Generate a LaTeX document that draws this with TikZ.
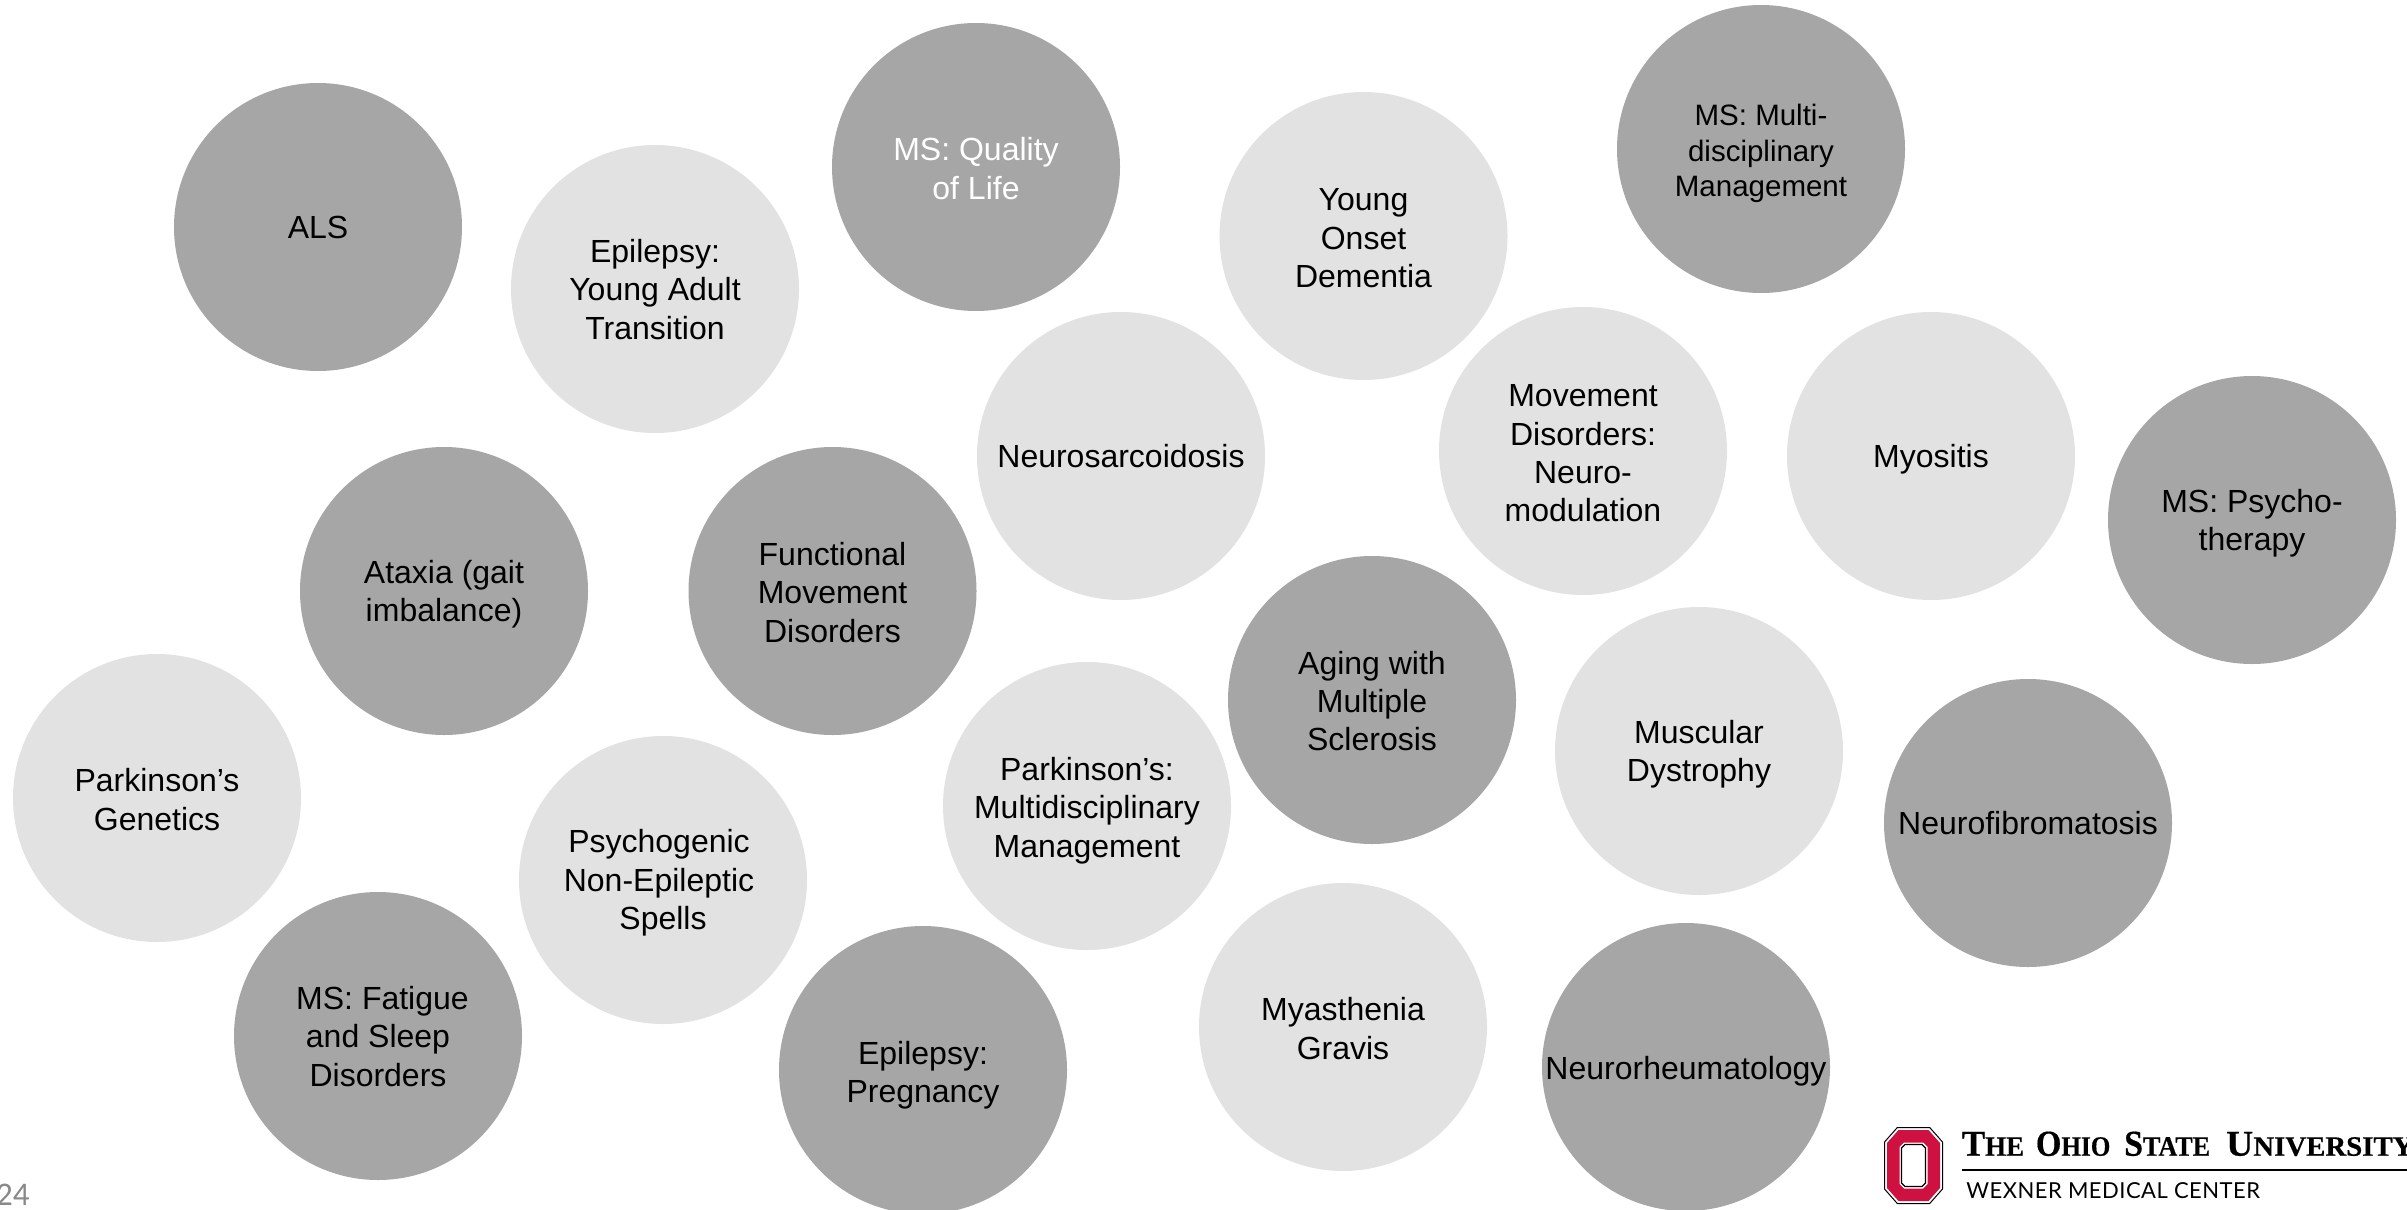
\documentclass[tikz,border=0pt]{standalone}
\usepackage{fontspec}
\setmainfont{Liberation Sans}
\newfontfamily\logoserif[BoldFeatures={FakeBold=0.5}]{Liberation Serif}
\newfontfamily\logosans[LetterSpace=2.2]{Lato}
\newfontfamily\pagefont{Carlito}
\definecolor{bubdark}{HTML}{A6A6A6}
\definecolor{bublight}{HTML}{E2E2E2}
\definecolor{osured}{HTML}{CE1141}
\definecolor{pagegray}{HTML}{898989}
\tikzset{
  bubble/.style={circle,minimum size=288pt,inner sep=0pt},
  darkbub/.style={bubble,fill=bubdark},
  lightbub/.style={bubble,fill=bublight},
  bubtext/.style={inner sep=0pt,align=center,text=black,font=\fontsize{32}{38.4}\selectfont},
  smalltext/.style={font=\fontsize{29.5}{35.4}\selectfont},
  logoword/.style={anchor=base west,inner sep=0pt,font=\logoserif\bfseries},
}
\newcommand{\SC}[2]{{\fontsize{36.4}{36}\selectfont #1}{\fontsize{28}{36}\selectfont #2}}
% \bub{name}{circle style}{x}{y}{text drop}{text style}{text}
\newcommand{\bub}[7]{%
  \node[#2] (#1) at (#3,#4) {};
  \node[bubtext,#6] (#1t) at ([yshift=-#5pt]#1.center) {#7};
}
\begin{document}
\begin{tikzpicture}[x=1pt,y=-1pt]
\useasboundingbox (0,0) rectangle (2407,1210);
\clip (0,0) rectangle (2407,1210);
\fill[white] (0,0) rectangle (2407,1210);
\bub{epya}{lightbub}{655}{289}{0.5}{}{Epilepsy:\\Young Adult\\Transition}
\bub{yod}{lightbub}{1363.5}{236}{2.5}{}{Young\\Onset\\Dementia}
\bub{nsarc}{lightbub}{1121}{456}{0}{}{Neurosarcoidosis}
\bub{mdn}{lightbub}{1583}{451}{2.5}{}{Movement\\Disorders:\\Neuro-\\modulation}
\bub{myos}{lightbub}{1931}{456}{3}{}{Myositis}
\bub{pgen}{lightbub}{157}{798}{1.5}{}{Parkinson’s\\Genetics}
\bub{pnes}{lightbub}{663}{880}{3}{}{\mbox{Psychogenic\hspace{8pt}}\\\mbox{Non-Epileptic\hspace{8pt}}\\Spells}
\bub{pmm}{lightbub}{1087}{806}{4.5}{}{Parkinson’s:\\Multidisciplinary\\Management}
\bub{mdys}{lightbub}{1699}{751}{3}{}{Muscular\\Dystrophy}
\bub{mg}{lightbub}{1343}{1027}{1.5}{}{Myasthenia\\Gravis}
\bub{als}{darkbub}{318}{227}{0}{}{ALS}
\bub{msqol}{darkbub}{976}{167}{1.5}{text=white}{MS: Quality\\of Life}
\bub{msmd}{darkbub}{1761}{149}{4.5}{smalltext}{MS: Multi-\\disciplinary\\Management}
\bub{mspsy}{darkbub}{2252}{520}{3}{}{MS: Psycho-\\therapy}
\bub{atax}{darkbub}{444}{591}{3}{}{Ataxia (gait\\imbalance)}
\bub{fmd}{darkbub}{832.5}{591}{1.5}{}{Functional\\Movement\\Disorders}
\bub{aging}{darkbub}{1372}{700}{1}{}{Aging with\\Multiple\\Sclerosis}
\bub{nfib}{darkbub}{2028}{823}{0}{}{Neurofibromatosis}
\bub{msfat}{darkbub}{378}{1036}{0.5}{}{\hspace*{9pt}MS: Fatigue\\and Sleep\\Disorders}
\bub{eppr}{darkbub}{923}{1070}{5}{}{Epilepsy:\\Pregnancy}
\bub{nrh}{darkbub}{1686}{1067}{4.5}{}{Neurorheumatology}
% page number
\node[anchor=base west,inner sep=0pt,text=pagegray,font=\pagefont\fontsize{33}{33}\selectfont] (pageno) at (-4,1205) {24};
% logo
\draw[black,line width=1pt,fill=white] (1897.3,1127.5) -- (1929.7,1127.5) -- (1942.5,1142) -- (1942.5,1189) -- (1929.7,1203.5) -- (1897.3,1203.5) -- (1884.5,1189) -- (1884.5,1142) -- cycle;
\fill[osured] (1898.5,1130) -- (1928.5,1130) -- (1940,1143) -- (1940,1188) -- (1928.5,1201) -- (1898.5,1201) -- (1887,1188) -- (1887,1143) -- cycle;
\fill[white] (1904,1142.5) -- (1923,1142.5) -- (1927.5,1147) -- (1927.5,1184) -- (1923,1188.5) -- (1904,1188.5) -- (1899.5,1184) -- (1899.5,1147) -- cycle;
\draw[black,line width=1.2pt,fill=white] (1905,1144.5) -- (1922,1144.5) -- (1925.5,1148) -- (1925.5,1183) -- (1922,1186.5) -- (1905,1186.5) -- (1901.5,1183) -- (1901.5,1148) -- cycle;
\node[logoword] (wthe) at (1961.7,1155.7) {\scalebox{.96}[1]{\SC{T}{HE}}};
\node[logoword] (wohio) at (2035.7,1155.7) {\scalebox{.90}[1]{\SC{O}{HIO}}};
\node[logoword] (wstate) at (2124,1155.7) {\scalebox{.93}[1]{\SC{S}{TATE}}};
\node[logoword] (wuniv) at (2226,1155.7) {\scalebox{1.03}[1]{\SC{U}{NIVERSITY}}};
\coordinate (ruleL) at (1962.3,1170);
\coordinate (ruleR) at (2407,1170);
\draw[black,line width=1.5pt] (ruleL) -- (ruleR);
\node[anchor=base west,inner sep=0pt,font=\logosans\fontsize{22}{24}\selectfont] (wmc) at (1966.2,1198) {WEXNER MEDICAL CENTER};
\end{tikzpicture}
\end{document}
